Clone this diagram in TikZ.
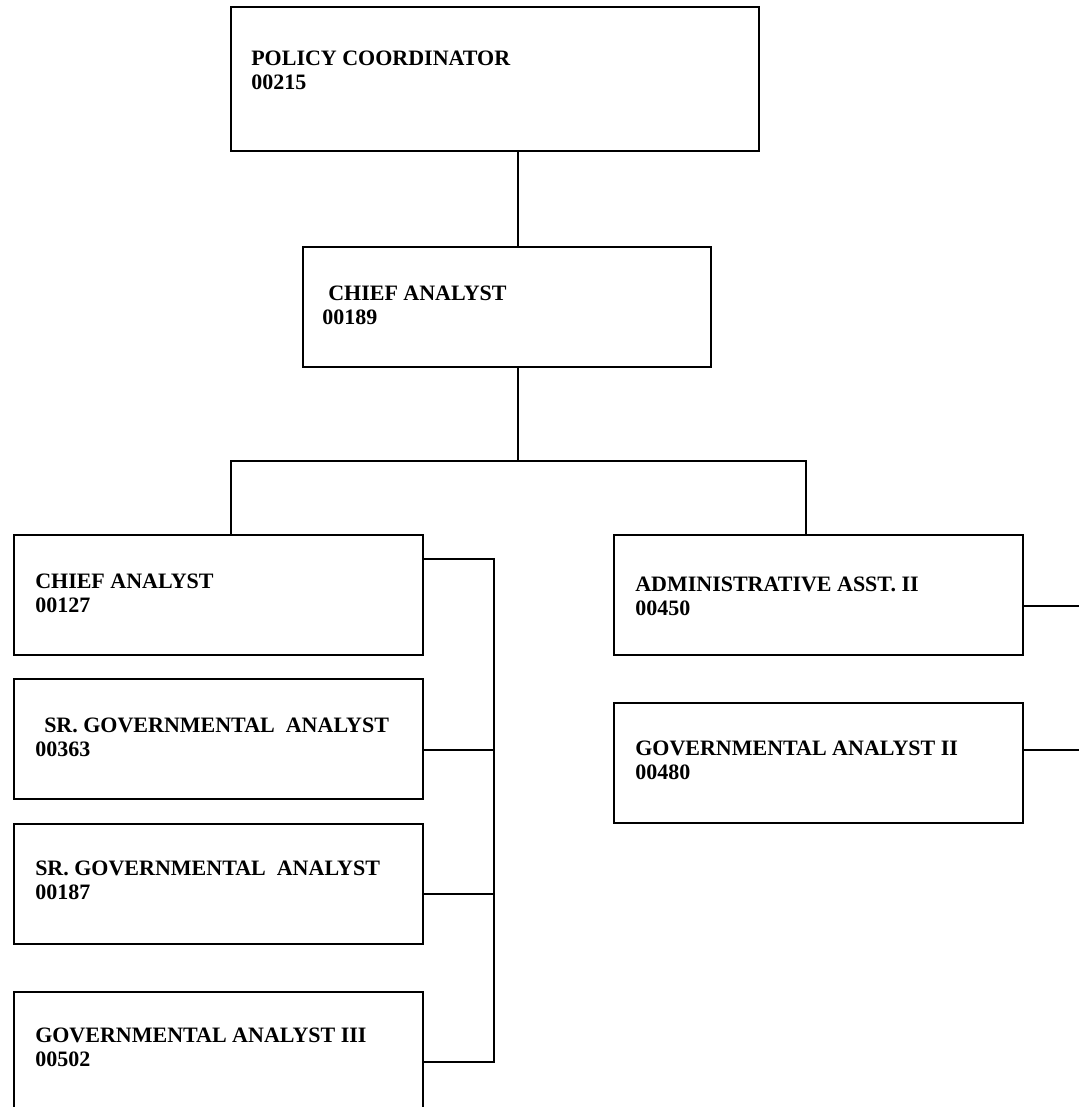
\documentclass[tikz,border=0pt]{standalone}
\usepackage{fontspec}
\setmainfont{Liberation Serif}
\begin{document}
\begin{tikzpicture}[x=0.75pt,y=-0.75pt,
  box/.style={draw, line width=1.6pt, inner sep=0pt, anchor=north west},
  lbl/.style={anchor=base west, inner sep=0pt, font=\fontsize{16.5pt}{18pt}\selectfont\bfseries},
  conn/.style={line width=1pt}]
\useasboundingbox (0,0) rectangle (1079,1107);
% boxes
\node[box, minimum width=396pt, minimum height=108pt] (top) at (230,6) {};
\node[box, minimum width=306pt, minimum height=90pt] (chief) at (302,246) {};
\node[box, minimum width=306.75pt, minimum height=90pt] (ca) at (13,534) {};
\node[box, minimum width=306.75pt, minimum height=90pt] (sr1) at (13,678) {};
\node[box, minimum width=306.75pt, minimum height=90pt] (sr2) at (13,823) {};
\node[box, minimum width=306.75pt, minimum height=90pt] (ga3) at (13,991) {};
\node[box, minimum width=306.75pt, minimum height=90pt] (adm) at (613,534) {};
\node[box, minimum width=306.75pt, minimum height=90pt] (ga2) at (613,702) {};
% labels
\node[lbl] (topt) at (251,65) {\begin{tabular}[t]{@{}l@{}}POLICY COORDINATOR\\00215\end{tabular}};
\node[lbl] (chieft) at (322,300) {\begin{tabular}[t]{@{}l@{}}\hspace*{4.5pt}CHIEF ANALYST\\00189\end{tabular}};
\node[lbl] (cat) at (35,588) {\begin{tabular}[t]{@{}l@{}}CHIEF ANALYST\\00127\end{tabular}};
\node[lbl] (sr1t) at (35,732) {\begin{tabular}[t]{@{}l@{}}\hspace*{6.75pt}SR. GOVERNMENTAL\ \ ANALYST\\00363\end{tabular}};
\node[lbl] (sr2t) at (35,875) {\begin{tabular}[t]{@{}l@{}}SR. GOVERNMENTAL\ \ ANALYST\\00187\end{tabular}};
\node[lbl] (ga3t) at (35,1042) {\begin{tabular}[t]{@{}l@{}}GOVERNMENTAL ANALYST III\\00502\end{tabular}};
\node[lbl] (admt) at (635,591) {\begin{tabular}[t]{@{}l@{}}ADMINISTRATIVE ASST. II\\00450\end{tabular}};
\node[lbl] (ga2t) at (635,755) {\begin{tabular}[t]{@{}l@{}}GOVERNMENTAL ANALYST II\\00480\end{tabular}};
% junction coordinates
\coordinate (j1) at (518,461);
\coordinate (jl) at (231,461);
\coordinate (jr) at (806,461);
\coordinate (b1) at (494,559);
\coordinate (b2) at (494,750);
\coordinate (b3) at (494,894);
\coordinate (b4) at (494,1062);
\coordinate (r1) at (1079,606);
\coordinate (r2) at (1079,750);
% connectors
\draw[conn] (top.south -| j1) -- (chief.north -| j1);
\draw[conn] (chief.south -| j1) -- (j1);
\draw[conn] (ca.north -| jl) -- (jl) -- (jr) -- (adm.north -| jr);
\draw[conn] (ca.east |- b1) -- (b1) -- (b4) -- (ga3.east |- b4);
\draw[conn] (sr1.east |- b2) -- (b2);
\draw[conn] (sr2.east |- b3) -- (b3);
\draw[conn] (adm.east |- r1) -- (r1);
\draw[conn] (ga2.east |- r2) -- (r2);
\end{tikzpicture}
\end{document}
